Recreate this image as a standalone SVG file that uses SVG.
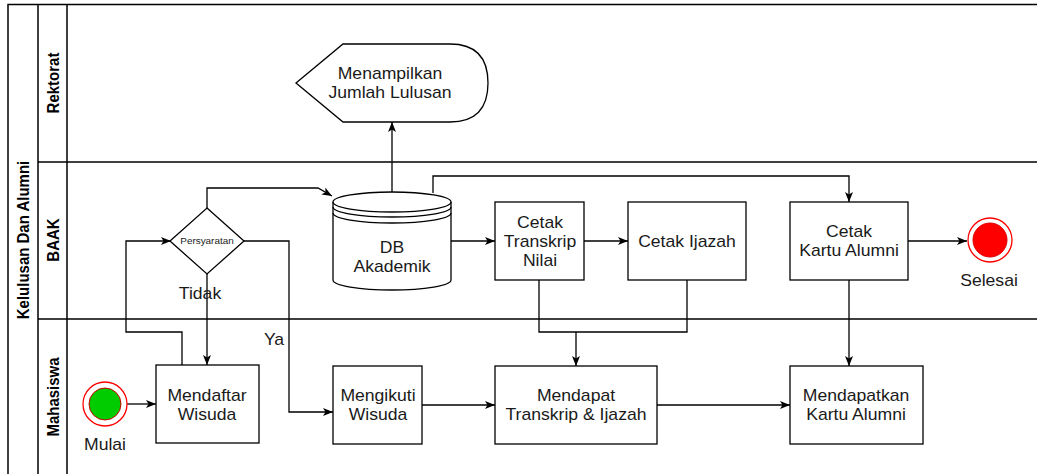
<svg xmlns="http://www.w3.org/2000/svg" width="1037" height="474" viewBox="0 0 1037 474">
  <style>
    .lane { fill: none; stroke: #000; stroke-width: 1.5; }
    .box { fill: #fff; stroke: #000; stroke-width: 1.3; }
    .edge { fill: none; stroke: #000; stroke-width: 1.3; }
    .t { font-family: "Liberation Sans", Arial, sans-serif; font-size: 16px; fill: #1a1a1a; text-anchor: middle; }
    .small { font-size: 9px; }
    .hdr { font-family: "Liberation Sans", Arial, sans-serif; font-size: 15px; font-weight: bold; fill: #000; text-anchor: middle; }
  </style>
  <defs>
    <marker id="arrow" markerUnits="userSpaceOnUse" markerWidth="12" markerHeight="10" refX="10" refY="4" orient="auto">
      <path d="M0,0 L10,4 L0,8 L2.5,4 Z" fill="#000"/>
    </marker>
  </defs>

  <rect width="1037" height="474" fill="#fff"/>

  <!-- pool and lanes -->
  <g id="pool">
    <path class="lane" d="M8,476 V4.5 H1040"/>
    <path class="lane" d="M38,4.5 V476 M67,4.5 V476"/>
    <path class="lane" d="M38,162 H1040 M38,319 H1040"/>
    <text class="hdr" transform="matrix(0 -1 1.1 0 23 240)" x="0" y="5.4">Kelulusan Dan Alumni</text>
    <text class="hdr" transform="matrix(0 -1 1.1 0 53 83)" x="0" y="5.4">Rektorat</text>
    <text class="hdr" transform="matrix(0 -1 1.1 0 53 240)" x="0" y="5.4">BAAK</text>
    <text class="hdr" transform="matrix(0 -1 1.1 0 53 397)" x="0" y="5.4">Mahasiswa</text>
  </g>

  <!-- connectors -->
  <g id="connectors">
    <path class="edge" d="M207,208 V188 H318 L332,196" marker-end="url(#arrow)"/>
    <path class="edge" d="M182,365 V332 H126 V241 H171" marker-end="url(#arrow)"/>
    <path class="edge" d="M207,274 V365" marker-end="url(#arrow)"/>
    <path class="edge" d="M244,241 H289 V412 H333" marker-end="url(#arrow)"/>
    <path class="edge" d="M127,404 H156" marker-end="url(#arrow)"/>
    <path class="edge" d="M392,192 V122" marker-end="url(#arrow)"/>
    <path class="edge" d="M433,193 V176 H849 V202" marker-end="url(#arrow)"/>
    <path class="edge" d="M451,241 H495" marker-end="url(#arrow)"/>
    <path class="edge" d="M584,241 H628" marker-end="url(#arrow)"/>
    <path class="edge" d="M539,280 V332 H687 V280"/>
    <path class="edge" d="M576,332 V366" marker-end="url(#arrow)"/>
    <path class="edge" d="M422,405 H495" marker-end="url(#arrow)"/>
    <path class="edge" d="M657,405 H790" marker-end="url(#arrow)"/>
    <path class="edge" d="M849,280 V366" marker-end="url(#arrow)"/>
    <path class="edge" d="M908,241 H967" marker-end="url(#arrow)"/>
    <text class="t" transform="matrix(1.1 0 0 1 200 0)" x="0" y="299">Tidak</text>
    <text class="t" transform="matrix(1.1 0 0 1 274 0)" x="0" y="345">Ya</text>
  </g>

  <!-- Rektorat lane -->
  <g id="menampilkan">
    <path class="box" d="M296,83 L343,44 H450 Q488,44 488,83 Q488,122 450,122 H343 Z"/>
    <text class="t" transform="matrix(1.1 0 0 1 390 0)"><tspan x="0" y="79">Menampilkan</tspan><tspan x="0" y="98">Jumlah Lulusan</tspan></text>
  </g>

  <!-- BAAK lane -->
  <g id="persyaratan">
    <path class="box" d="M207,208 L244,241 L207,274 L170,241 Z"/>
    <text class="t small" transform="matrix(1.1 0 0 1 207 0)" x="0" y="244">Persyaratan</text>
  </g>

  <g id="db-akademik">
    <path class="box" d="M333,202 A59,10 0 0 1 451,202 V280 A59,10 0 0 1 333,280 Z"/>
    <path class="edge" d="M333,202 A59,10 0 0 0 451,202 M333,207 A59,10 0 0 0 451,207 M333,213 A59,10 0 0 0 451,213"/>
    <text class="t" transform="matrix(1.1 0 0 1 392 0)"><tspan x="0" y="253">DB</tspan><tspan x="0" y="272">Akademik</tspan></text>
  </g>

  <g id="cetak-transkrip">
    <rect class="box" x="495" y="202" width="89" height="78"/>
    <text class="t" transform="matrix(1.1 0 0 1 540 0)"><tspan x="0" y="228">Cetak</tspan><tspan x="0" y="247">Transkrip</tspan><tspan x="0" y="266">Nilai</tspan></text>
  </g>

  <g id="cetak-ijazah">
    <rect class="box" x="628" y="202" width="118" height="78"/>
    <text class="t" transform="matrix(1.1 0 0 1 687 0)" x="0" y="247">Cetak Ijazah</text>
  </g>

  <g id="cetak-kartu">
    <rect class="box" x="790" y="202" width="118" height="78"/>
    <text class="t" transform="matrix(1.1 0 0 1 849 0)"><tspan x="0" y="237">Cetak</tspan><tspan x="0" y="256">Kartu Alumni</tspan></text>
  </g>

  <g id="selesai">
    <circle cx="990" cy="240" r="22" fill="#fff" stroke="#ff0000" stroke-width="1.3"/>
    <circle cx="990" cy="240" r="17" fill="#ff0000" stroke="#e00000" stroke-width="1"/>
    <text class="t" transform="matrix(1.1 0 0 1 989 0)" x="0" y="286">Selesai</text>
  </g>

  <!-- Mahasiswa lane -->
  <g id="mulai">
    <circle cx="105" cy="404" r="22" fill="#fff" stroke="#ff0000" stroke-width="1.3"/>
    <circle cx="105" cy="404" r="16" fill="#00cc00" stroke="#cc0000" stroke-width="1"/>
    <text class="t" transform="matrix(1.1 0 0 1 105 0)" x="0" y="450">Mulai</text>
  </g>

  <g id="mendaftar-wisuda">
    <rect class="box" x="156" y="365" width="103" height="78"/>
    <text class="t" transform="matrix(1.1 0 0 1 207 0)"><tspan x="0" y="401">Mendaftar</tspan><tspan x="0" y="420">Wisuda</tspan></text>
  </g>

  <g id="mengikuti-wisuda">
    <rect class="box" x="333" y="366" width="89" height="78"/>
    <text class="t" transform="matrix(1.1 0 0 1 378 0)"><tspan x="0" y="401">Mengikuti</tspan><tspan x="0" y="420">Wisuda</tspan></text>
  </g>

  <g id="mendapat-transkrip">
    <rect class="box" x="495" y="366" width="162" height="78"/>
    <text class="t" transform="matrix(1.1 0 0 1 576 0)"><tspan x="0" y="401">Mendapat</tspan><tspan x="0" y="420">Transkrip &amp; Ijazah</tspan></text>
  </g>

  <g id="mendapatkan-kartu">
    <rect class="box" x="790" y="366" width="133" height="78"/>
    <text class="t" transform="matrix(1.1 0 0 1 856 0)"><tspan x="0" y="401">Mendapatkan</tspan><tspan x="0" y="420">Kartu Alumni</tspan></text>
  </g>
</svg>
